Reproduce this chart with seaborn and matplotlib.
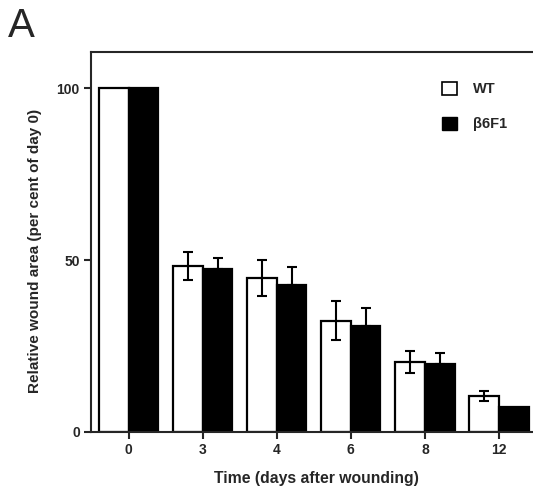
import numpy as np
import pandas as pd
import seaborn as sns
import matplotlib.pyplot as plt
from matplotlib.patches import Patch

# data
days = ["0", "3", "4", "6", "8", "12"]
wt_mean = [100, 48.3, 44.8, 32.4, 20.3, 10.5]
wt_err = [0, 4.1, 5.2, 5.7, 3.2, 1.4]
b6_mean = [100, 47.3, 42.8, 30.7, 19.9, 7.2]
b6_err = [0, 3.2, 5.3, 5.3, 3.2, 0]
groups = ["WT", "β6F1"]

df = pd.DataFrame({
    "day": days * 2,
    "area": wt_mean + b6_mean,
    "group": ["WT"] * len(days) + ["β6F1"] * len(days),
})

sns.set_style("ticks")
plt.rcParams["font.family"] = ["Liberation Sans", "DejaVu Sans"]

fig = plt.figure(figsize=(5.33, 4.91), dpi=100)
ax = fig.add_axes([0.1707, 0.1202, 0.8293, 0.7739])

sns.barplot(data=df, x="day", y="area", hue="group", order=days, hue_order=groups,
            palette={"WT": "white", "β6F1": "black"}, edgecolor="black",
            linewidth=1.6, width=0.8, errorbar=None, ax=ax)
ax.get_legend().remove()

# error bars: WT both ways, β6F1 upward only
for cont, means, errs, both in zip(ax.containers, [wt_mean, b6_mean], [wt_err, b6_err], [True, False]):
    for bar, m, e in zip(cont, means, errs):
        if e <= 0:
            continue
        xc = bar.get_x() + bar.get_width() / 2
        lo = e if both else 0
        ax.errorbar(xc, m, yerr=[[lo], [e]], fmt="none", ecolor="black",
                    elinewidth=1.5, capsize=3.5, capthick=1.5)

ax.set_xlim(-0.51, 5.46)
ax.set_ylim(0, 110.5)
ax.set_yticks([0, 50, 100])
ax.spines["right"].set_visible(False)
for s in ["left", "bottom", "top"]:
    ax.spines[s].set_linewidth(1.5)
ax.tick_params(axis="both", direction="out", length=5, width=1.5, labelsize=10, pad=3)
for lbl in ax.get_xticklabels() + ax.get_yticklabels():
    lbl.set_fontweight("bold")

ax.set_xlabel("Time (days after wounding)", fontsize=11.3, fontweight="bold")
ax.set_ylabel("Relative wound area (per cent of day 0)", fontsize=11, fontweight="bold")
ax.xaxis.set_label_coords(0.511, -0.103)
ax.yaxis.set_label_coords(-0.111, 0.476)

handles = [Patch(facecolor="white", edgecolor="black", linewidth=1.2, label="WT"),
           Patch(facecolor="black", edgecolor="black", label="β6F1")]
leg = fig.legend(handles=handles, loc="upper left", bbox_to_anchor=(0.805, 0.86),
                 frameon=False, handlelength=1.0, handleheight=1.0, handletextpad=1.1,
                 labelspacing=1.4, prop={"weight": "bold", "size": 10.5})

fig.text(0.015, 0.985, "A", fontsize=29, va="top", ha="left")

fig.savefig("out.png", dpi=100)
